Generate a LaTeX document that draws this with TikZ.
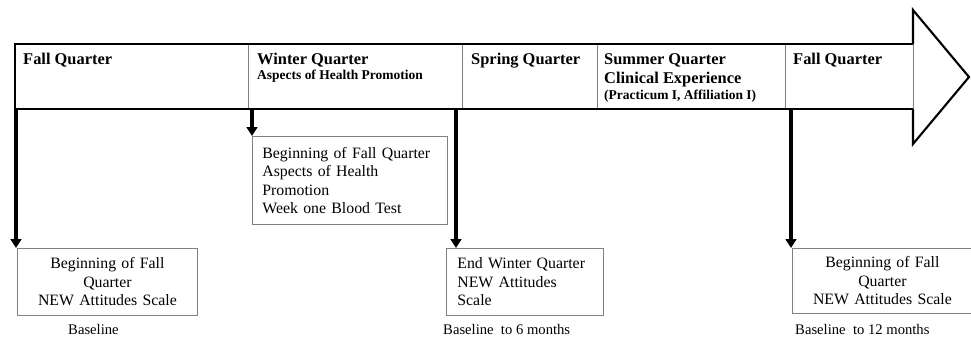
\documentclass[tikz,border=0pt]{standalone}
\usepackage{fontspec}
\setmainfont{Liberation Serif}
\usetikzlibrary{arrows.meta,positioning}
\definecolor{boxgray}{HTML}{808080}

\begin{document}
\begin{tikzpicture}[x=0.03cm,y=-0.03cm,>={Triangle[width=9pt,length=7.5pt]}]
\tikzstyle{hdr}=[anchor=base west,inner sep=0pt,font=\fontsize{14}{16}\selectfont\bfseries]
\tikzstyle{sub}=[anchor=base west,inner sep=0pt,font=\fontsize{11.5}{13}\selectfont\bfseries]
\tikzstyle{msr}=[draw=boxgray,line width=0.7pt,anchor=north west,inner ysep=0pt,font=\fontsize{13.5}{15.8}\selectfont]
\tikzstyle{lbl}=[anchor=base west,inner sep=0pt,font=\fontsize{12.5}{14}\selectfont]
\tikzstyle{divider}=[boxgray,line width=0.7pt]
\tikzstyle{band}=[line width=1.8pt,line join=miter]
\tikzstyle{arr}=[->,line width=2.7pt]
\useasboundingbox (0,0) rectangle (971,337);
% timeline band with arrow head
\foreach \x in {248,462,597,785,913} \draw[divider] (\x,44) -- (\x,109);
\draw[band] (913,44) -- (15,44) -- (15,109) -- (913,109);
\draw[band] (913,44) -- (913,10) -- (969,77) -- (913,144) -- (913,109);
\node[hdr] (fall) at (23,64) {Fall Quarter};
\node[hdr] (winter) at (257,64) {Winter Quarter};
\node[sub] (aspects) at (257,79) {Aspects of Health Promotion};
\node[hdr] (spring) at (471,64) {Spring Quarter};
\node[hdr] (summer) at (604,64) {Summer Quarter};
\node[hdr] (clinical) at (604,83) {Clinical Experience};
\node[sub] (practicum) at (604,99) {(Practicum I, Affiliation I)};
\node[hdr] (fallnext) at (793,64) {Fall Quarter};
% measurement points
\coordinate (t1) at (16,109);
\coordinate (t2) at (252,109);
\coordinate (t3) at (456,109);
\coordinate (t4) at (791,109);
\node[msr,align=center,text width=5.0cm,inner xsep=0.2cm,minimum height=2.01cm] (base) at (17,248) {Beginning of Fall\\Quarter\\NEW Attitudes Scale};
\node[msr,align=left,text width=5.25cm,inner xsep=0.3cm,minimum height=2.64cm] (blood) at (252,136) {Beginning of Fall Quarter\\Aspects of Health\\Promotion\\Week one Blood Test};
\node[msr,align=left,text width=4.05cm,inner xsep=0.33cm,minimum height=2.01cm] (six) at (446,248) {End Winter Quarter\\NEW Attitudes\\Scale};
\node[msr,align=center,text width=5.0cm,inner xsep=0.2cm,minimum height=1.95cm] (twelve) at (792,248) {Beginning of Fall\\Quarter\\NEW Attitudes Scale};
\draw[arr] (t1) -- (t1 |- base.north);
\draw[arr] (t2) -- (t2 |- blood.north);
\draw[arr] (t3) -- (t3 |- six.north);
\draw[arr] (t4) -- (t4 |- twelve.north);
\node[lbl] (lbase) at (68,334) {Baseline};
\node[lbl] (lsix) at (443,334) {Baseline\ \ to 6 months};
\node[lbl] (ltwelve) at (795,334) {Baseline\ \ to 12 months};
\end{tikzpicture}
\end{document}
